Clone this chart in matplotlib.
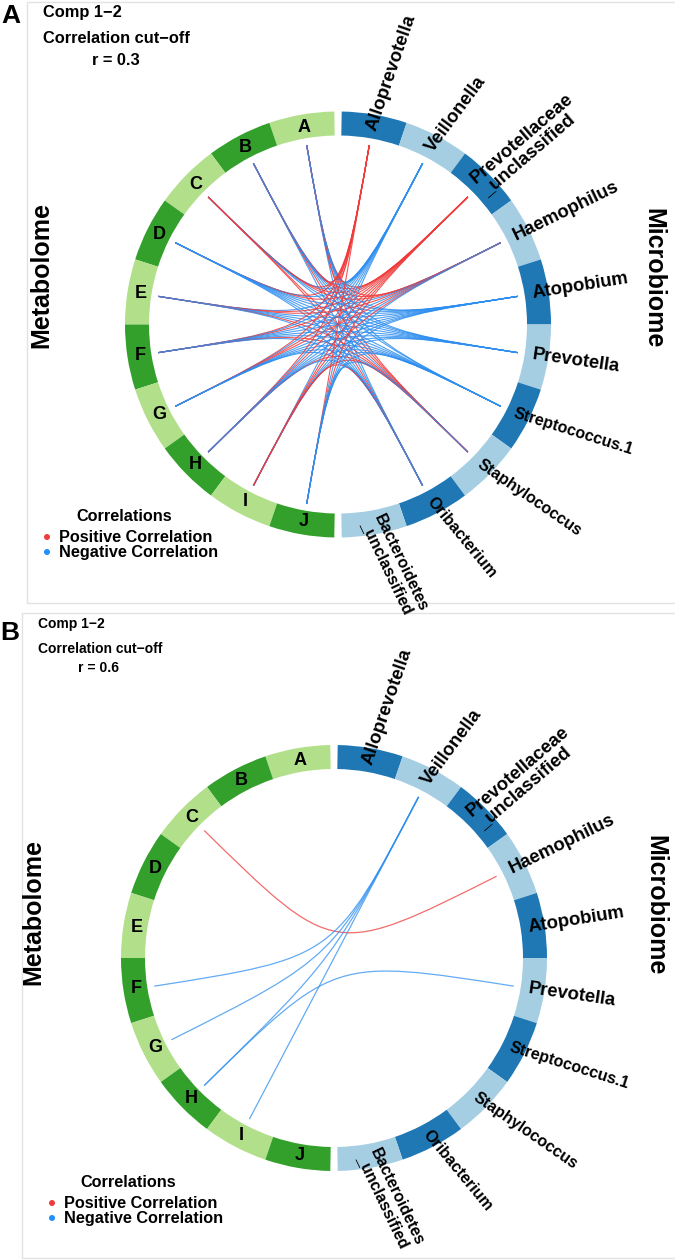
import numpy as np
import matplotlib.pyplot as plt
from matplotlib.patches import Wedge, Rectangle, PathPatch, Circle
from matplotlib.path import Path

plt.rcParams['font.family'] = ['Liberation Sans', 'DejaVu Sans']
plt.rcParams['font.weight'] = 'bold'

# variaveis dos dois blocos
metabolitos = ["A", "B", "C", "D", "E", "F", "G", "H", "I", "J"]
microbios = ["Alloprevotella", "Veillonella", "Prevotellaceae\n_unclassified",
             "Haemophilus", "Atopobium", "Prevotella", "Streptococcus.1",
             "Staphylococcus", "Oribacterium", "Bacteroidetes\n_unclassified"]

# sinal das correlacoes (linhas = metabolitos, colunas = microbios), 0 = sem ligacao
# painel A, cut-off r = 0.3
links_A = [
    [+1, -1, +1, +1, -1, -1, -1, +1, -1, 0],
    [+1, -1, +1, +1, -1, -1, -1, +1, -1, 0],
    [+1, -1, +1, +1, -1, -1, 0, +1, +1, 0],
    [+1, -1, +1, -1, -1, -1, -1, -1, -1, 0],
    [0, -1, +1, +1, -1, -1, -1, +1, -1, 0],
    [+1, -1, +1, -1, -1, -1, -1, +1, -1, 0],
    [+1, -1, +1, +1, -1, -1, -1, -1, -1, 0],
    [+1, -1, +1, -1, -1, -1, -1, +1, -1, 0],
    [0, -1, +1, +1, -1, -1, -1, +1, +1, 0],
    [+1, -1, +1, -1, -1, 0, -1, -1, -1, 0],
]
# painel B, cut-off r = 0.6
links_B = [
    [0, 0, 0, 0, 0, 0, 0, 0, 0, 0],
    [0, 0, 0, 0, 0, 0, 0, 0, 0, 0],
    [0, 0, 0, +1, 0, 0, 0, 0, 0, 0],
    [0, 0, 0, 0, 0, 0, 0, 0, 0, 0],
    [0, 0, 0, 0, 0, 0, 0, 0, 0, 0],
    [0, -1, 0, 0, 0, 0, 0, 0, 0, 0],
    [0, -1, 0, 0, 0, 0, 0, 0, 0, 0],
    [0, -1, 0, 0, 0, -1, 0, 0, 0, 0],
    [0, -1, 0, 0, 0, 0, 0, 0, 0, 0],
    [0, 0, 0, 0, 0, 0, 0, 0, 0, 0],
]

verde = ["#b2df8a", "#33a02c"]
azul = ["#1f78b4", "#a6cee3"]
cor_pos = "#f03a3a"
cor_neg = "#2f8ff0"

# rotacao e tamanho dos nomes dos microbios (como aparecem na figura)
rot_lab = [71, 53.5, 40.5, 26, 9, -8.3, -17.5, -34.6, -50.4, -64.4]
tam_lab = [13.3, 13.3, 13.3, 13.3, 13.3, 13.3, 11.5, 11.5, 11.5, 11.5]

H = 1260
fig = plt.figure(figsize=(6.75, 12.6), dpi=100)
ax = fig.add_axes([0, 0, 1, 1])
ax.set_xlim(0, 675)
ax.set_ylim(0, H)
ax.axis('off')


def Y(y):
    return H - y


def polar(cx, cy, r, ang):
    a = np.radians(ang)
    return np.array([cx + r * np.cos(a), cy + r * np.sin(a)])


def painel(cx, cy, links, lw, alpha):
    cy = Y(cy)
    gap = 1.0
    seg = (180 - 2 * gap) / len(metabolitos)
    r_out, r_in, r_lin = 213, 189, 182
    ang_esq = []
    ang_dir = []
    for i, nome in enumerate(metabolitos):
        t1 = 90 + gap + i * seg
        ax.add_patch(Wedge((cx, cy), r_out, t1, t1 + seg, width=r_out - r_in,
                           color=verde[i % 2], lw=0))
        meio = t1 + seg / 2
        ang_esq.append(meio)
        p = polar(cx, cy, 200, meio)
        ax.text(p[0], p[1], nome, ha='center', va='center', fontsize=13)
    for j, nome in enumerate(microbios):
        t2 = 90 - gap - j * seg
        ax.add_patch(Wedge((cx, cy), r_out, t2 - seg, t2, width=r_out - r_in,
                           color=azul[j % 2], lw=0))
        meio = t2 - seg / 2
        ang_dir.append(meio)
        p = polar(cx, cy, 197, meio)
        ax.text(p[0], p[1], nome, ha='left', va='center', fontsize=tam_lab[j],
                rotation=rot_lab[j], rotation_mode='anchor', linespacing=0.95)
    centro = np.array([cx, cy])
    for i in range(len(metabolitos)):
        for j in range(len(microbios)):
            s = links[i][j]
            if s == 0:
                continue
            p0 = polar(cx, cy, r_lin, ang_esq[i])
            p3 = polar(cx, cy, r_lin, ang_dir[j])
            path = Path([p0, centro, centro, p3],
                        [Path.MOVETO, Path.CURVE4, Path.CURVE4, Path.CURVE4])
            ax.add_patch(PathPatch(path, fill=False, lw=lw, alpha=alpha,
                                   edgecolor=cor_pos if s > 0 else cor_neg))


# molduras
ax.add_patch(Rectangle((27, Y(603)), 660, 601, fill=False, ec="#e2e2e2", lw=1))
ax.add_patch(Rectangle((22, Y(1258)), 660, 645, fill=False, ec="#e2e2e2", lw=1))

painel(338, 324.5, links_A, 0.8, 0.85)
painel(334, 958, links_B, 0.9, 0.75)

# textos painel A
ax.text(1, Y(23), "A", fontsize=19)
ax.text(43, Y(17), "Comp 1\u22122", fontsize=11.8)
ax.text(43, Y(43), "Correlation cut\u2212off", fontsize=11.8)
ax.text(116, Y(65), "r = 0.3", fontsize=11.8, ha='center')
ax.text(41, Y(275), "Metabolome", fontsize=18, rotation=90, ha='center', va='center')
ax.text(653, Y(278), "Microbiome", fontsize=18, rotation=-90, ha='center', va='center')

# textos painel B (fonte mais estreita na figura original)
ax.text(0, Y(640), "B", fontsize=19)
ax.text(38, Y(628), "Comp 1\u22122", fontsize=10)
ax.text(38, Y(653), "Correlation cut\u2212off", fontsize=10)
ax.text(99, Y(672), "r = 0.6", fontsize=10, ha='center')
ax.text(33, Y(912), "Metabolome", fontsize=18, rotation=90, ha='center', va='center')
ax.text(655, Y(905), "Microbiome", fontsize=18, rotation=-90, ha='center', va='center')

# legendas
for tx, ty, xd in [(124, 521, 47), (128, 1187, 52)]:
    ax.text(tx, Y(ty), "Correlations", fontsize=11.7, ha='center')
    ax.text(xd + 12, Y(ty + 21), "Positive Correlation", fontsize=11.7)
    ax.text(xd + 12, Y(ty + 36), "Negative Correlation", fontsize=11.7)
    ax.add_patch(Circle((xd, Y(ty + 16)), 3, color="#ee3b3b", lw=0))
    ax.add_patch(Circle((xd, Y(ty + 31)), 3, color="#1e90ff", lw=0))

plt.savefig("out.png", dpi=100)
